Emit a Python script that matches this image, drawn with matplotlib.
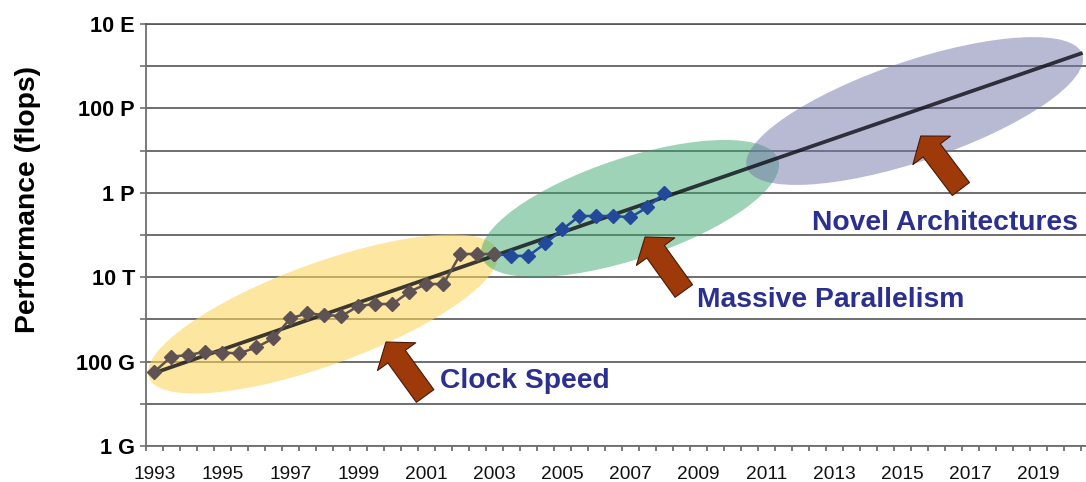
import numpy as np
import matplotlib
matplotlib.use('Agg')
import matplotlib.pyplot as plt
import matplotlib.transforms as transforms
from matplotlib.patches import Ellipse
from matplotlib.ticker import NullLocator

plt.rcParams['font.family'] = ['Liberation Sans', 'DejaVu Sans']

# fastest system on each half-yearly list, in GFlops
clock_years = [1993.0, 1993.5, 1994.0, 1994.5, 1995.0, 1995.5, 1996.0, 1996.5,
               1997.0, 1997.5, 1998.0, 1998.5, 1999.0, 1999.5, 2000.0, 2000.5,
               2001.0, 2001.5, 2002.0, 2002.5, 2003.0]
clock_gflops = [58, 131, 143, 172, 163, 157, 218, 357,
                1060, 1400, 1270, 1200, 2080, 2320, 2320, 4530,
                6900, 6900, 35500, 35500, 35500]

parallel_years = [2003.0, 2003.5, 2004.0, 2004.5, 2005.0, 2005.5, 2006.0,
                  2006.5, 2007.0, 2007.5, 2008.0]
parallel_gflops = [35500, 32000, 32000, 63600, 136000, 282000, 282000,
                   282000, 263000, 453000, 1000000]

# exponential trend, start and end of the projection
trend_years = [1993.0, 2020.25]
trend_gflops = [54, 2.0e9]

y_tick_values = [1e9, 1e10, 1e11, 1e12, 1e13, 1e14, 1e15, 1e16, 1e17, 1e18, 1e19]
y_tick_labels = ['1 G', '', '100 G', '', '10 T', '', '1 P', '', '100 P', '', '10 E']
x_tick_years = list(range(1993, 2020, 2))

fig = plt.figure(figsize=(10.86, 4.82), dpi=100)
ax = fig.add_axes([146 / 1086, 36 / 482, 940 / 1086, 422 / 482])

ax.set_yscale('log')
ax.set_ylim(1e9, 1e19)
ax.set_xlim(1992.75, 2020.40)

ax.set_axisbelow(True)
ax.grid(axis='y', color='#555555', lw=1.2)
ax.grid(axis='x', visible=False)

ax.set_yticks(y_tick_values, y_tick_labels)
ax.yaxis.set_minor_locator(NullLocator())
ax.set_xticks(x_tick_years, [str(y) for y in x_tick_years])
ax.set_xticks(np.arange(1992.75, 2020.3, 0.5), minor=True)

ax.tick_params(axis='x', which='major', length=0, pad=14.5, labelsize=13.8,
               labelcolor='#111111')
ax.tick_params(axis='x', which='minor', length=3.6, width=1.1, color='#555555')
ax.tick_params(axis='y', which='major', length=4.3, width=1.1, color='#666666',
               pad=3.6, labelsize=15.6)
for lab in ax.get_yticklabels():
    lab.set_fontweight('bold')

for side in ['left', 'bottom']:
    ax.spines[side].set_color('#6e6e6e')
    ax.spines[side].set_linewidth(1.3)
ax.spines['right'].set_visible(False)
ax.spines['top'].set_color('#555555')
ax.spines['top'].set_linewidth(1.2)

gflop = 1e9


def highlight(year, flops, w, h, angle, color, alpha):
    # ellipse sized in pixels, centred on a data point
    cx, cy = ax.transData.transform((year, flops))
    ax.add_patch(Ellipse((cx, cy), w, h, angle=angle, fc=color, ec='none', alpha=alpha,
                         transform=transforms.IdentityTransform(), zorder=2))


highlight(1997.96, 10 ** 12.128, 371, 102, 20.0, '#FAD55C', 0.58)
highlight(2006.99, 10 ** 14.628, 312, 101, 18.3, '#35A46A', 0.48)
highlight(2015.36, 10 ** 16.938, 354, 100, 18.7, '#7276AA', 0.5)

# trend drawn semi-opaque so it takes on the tint of each region
ax.plot(trend_years, np.array(trend_gflops) * gflop, color='#0c0c14', lw=2.7,
        alpha=0.8, zorder=3)

ax.plot(parallel_years, np.array(parallel_gflops) * gflop, color='#23499A', marker='D',
        ms=7.6, lw=1.8, zorder=4)
ax.plot(clock_years, np.array(clock_gflops) * gflop, color='#5F5252', marker='D',
        ms=7.6, lw=1.8, zorder=4.1)

arrow_style = 'simple,head_length=1.3,head_width=3.4,tail_width=1.55'
for tip, tail in [((1999.81, 10 ** 11.464), (2000.96, 10 ** 10.185)),
                  ((2007.43, 10 ** 13.953), (2008.57, 10 ** 12.673)),
                  ((2015.54, 10 ** 16.346), (2016.72, 10 ** 15.090))]:
    ax.annotate('', xy=tip, xytext=tail, zorder=5,
                arrowprops=dict(arrowstyle=arrow_style, mutation_scale=10,
                                fc='#9E3A0A', ec='#4A1806', lw=0.8,
                                shrinkA=0, shrinkB=0))

text_kw = dict(color='#2B2F8F', fontsize=20.3, fontweight='bold', ha='left',
               va='baseline', zorder=6)
ax.text(2001.40, 10 ** 10.374, 'Clock Speed', **text_kw)
ax.text(2008.96, 10 ** 12.301, 'Massive Parallelism', **text_kw)
ax.text(2012.34, 10 ** 14.118, 'Novel Architectures', **text_kw)

fig.text(0.0258, 0.587, 'Performance (flops)', rotation=90, fontsize=20.3,
         fontweight='bold', ha='center', va='center')

fig.savefig('out.png', dpi=100)
